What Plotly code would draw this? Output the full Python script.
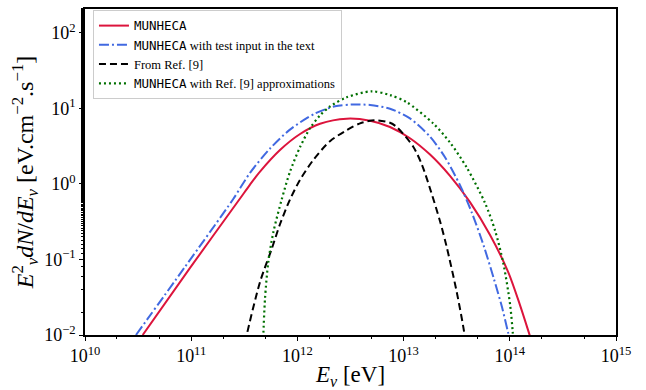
import numpy as np
import plotly.graph_objects as go

# ---- data (log10 of E [eV] and of E^2 dN/dE) ----
red_logE = [10.543, 10.989, 11.453, 11.554, 11.648, 11.836, 12.025, 12.213, 12.464, 12.684,
            12.872, 13.060, 13.249, 13.437, 13.625, 13.814, 13.986, 14.096, 14.181, 14.200]
red_logY = [-2.0, -1.111, -0.206, -0.008, 0.164, 0.450, 0.662, 0.798, 0.865, 0.838,
            0.755, 0.606, 0.389, 0.107, -0.241, -0.676, -1.170, -1.604, -1.975, -2.06]

blue_logE = [10.480, 10.942, 11.396, 11.554, 11.742, 11.930, 12.166, 12.354, 12.511, 12.684,
             12.872, 13.060, 13.249, 13.390, 13.531, 13.644, 13.757, 13.851, 13.927, 13.983, 14.002]
blue_logY = [-2.0, -1.097, -0.199, 0.148, 0.469, 0.720, 0.934, 1.028, 1.052, 1.046,
             0.996, 0.868, 0.626, 0.353, -0.016, -0.385, -0.830, -1.261, -1.634, -1.962, -2.076]

black_logE = [11.511, 11.523, 11.648, 11.758, 11.836, 11.930, 12.025, 12.150, 12.307, 12.464,
              12.590, 12.731, 12.872, 12.935, 13.091, 13.173, 13.258, 13.343, 13.406, 13.500,
              13.569, 13.578]
black_logY = [-2.1, -2.0, -1.298, -0.861, -0.533, -0.206, 0.056, 0.318, 0.567, 0.712,
              0.803, 0.843, 0.810, 0.755, 0.493, 0.253, -0.101, -0.494, -0.835, -1.429,
              -1.953, -2.07]

green_logE = [11.676, 11.679, 11.695, 11.726, 11.773, 11.852, 11.930, 12.025, 12.119, 12.213,
              12.307, 12.464, 12.700, 12.872, 13.029, 13.280, 13.437, 13.594, 13.766, 13.861,
              13.939, 14.002, 14.027, 14.033]
green_logY = [-2.1, -2.0, -1.516, -1.035, -0.642, -0.206, 0.161, 0.489, 0.738, 0.908,
              1.026, 1.148, 1.227, 1.177, 1.083, 0.800, 0.549, 0.219, -0.250, -0.615,
              -1.050, -1.589, -1.953, -2.1]

x_tick_vals = [1e10, 1e11, 1e12, 1e13, 1e14, 1e15]
x_tick_text = ["10<sup>10</sup>", "10<sup>11</sup>", "10<sup>12</sup>",
               "10<sup>13</sup>", "10<sup>14</sup>", "10<sup>15</sup>"]
y_tick_vals = [1e-2, 1e-1, 1e0, 1e1, 1e2]
y_tick_text = ["10<sup>\u22122</sup>", "10<sup>\u22121</sup>", "10<sup>0</sup>",
               "10<sup>1</sup>", "10<sup>2</sup>"]

MONO = "<span style='font-family:DejaVu Sans Mono'>MUNHECA</span>"
names = [MONO,
         MONO + " with test input in the text",
         "From Ref. [9]",
         MONO + " with Ref. [9] approximations"]

SERIF = "Liberation Serif"


def p10(v):
    return np.power(10.0, np.asarray(v, dtype=float))


fig = go.Figure()
fig.add_trace(go.Scatter(x=p10(red_logE), y=p10(red_logY), mode="lines", name=names[0],
                         line=dict(color="#DC143C", width=2, shape="spline", smoothing=0.8)))
fig.add_trace(go.Scatter(x=p10(blue_logE), y=p10(blue_logY), mode="lines", name=names[1],
                         line=dict(color="#4169E1", width=2, dash="10px,3px,2px,3px",
                                   shape="spline", smoothing=0.8)))
fig.add_trace(go.Scatter(x=p10(black_logE), y=p10(black_logY), mode="lines", name=names[2],
                         line=dict(color="black", width=2, dash="7px,4px",
                                   shape="spline", smoothing=0.8)))
fig.add_trace(go.Scatter(x=p10(green_logE), y=p10(green_logY), mode="lines", name=names[3],
                         line=dict(color="#007000", width=2.2, dash="2px,3px",
                                   shape="spline", smoothing=0.8)))

axis_common = dict(showline=True, linecolor="black", linewidth=1.5, mirror=True,
                   ticks="outside", ticklen=4, tickwidth=1, tickcolor="black",
                   showgrid=False, zeroline=False,
                   tickfont=dict(family=SERIF, size=18, color="black"))

fig.update_xaxes(type="log", range=[10, 15], tickvals=x_tick_vals, ticktext=x_tick_text,
                 minor=dict(ticks="outside", ticklen=2, tickcolor="black", showgrid=False),
                 title=dict(text="<i>E<sub>\u03bd</sub></i> [eV]", standoff=1,
                            font=dict(family=SERIF, size=23, color="black")),
                 **axis_common)
fig.update_yaxes(type="log", range=[-2, 2.317], tickvals=y_tick_vals, ticktext=y_tick_text,
                 minor=dict(ticks="outside", ticklen=2, tickcolor="black", showgrid=False),
                 title=dict(text="<i>E</i><sup>2</sup><sub><i>\u03bd</i></sub><i>dN</i>/<i>dE<sub>\u03bd</sub></i> [eV.cm<sup>\u22122</sup>.s<sup>\u22121</sup>]",
                            standoff=4, font=dict(family=SERIF, size=24, color="black")),
                 **axis_common)

fig.update_layout(
    width=646, height=390,
    margin=dict(l=85, r=30, t=7, b=53),
    paper_bgcolor="white", plot_bgcolor="white",
    showlegend=True,
    legend=dict(x=0.015, y=0.997, xanchor="left", yanchor="top",
                bgcolor="rgba(255,255,255,0.85)", bordercolor="#cccccc", borderwidth=1,
                font=dict(family=SERIF, size=12.5, color="black"),
                tracegroupgap=0, itemwidth=30),
)

fig.write_html("out.html")
